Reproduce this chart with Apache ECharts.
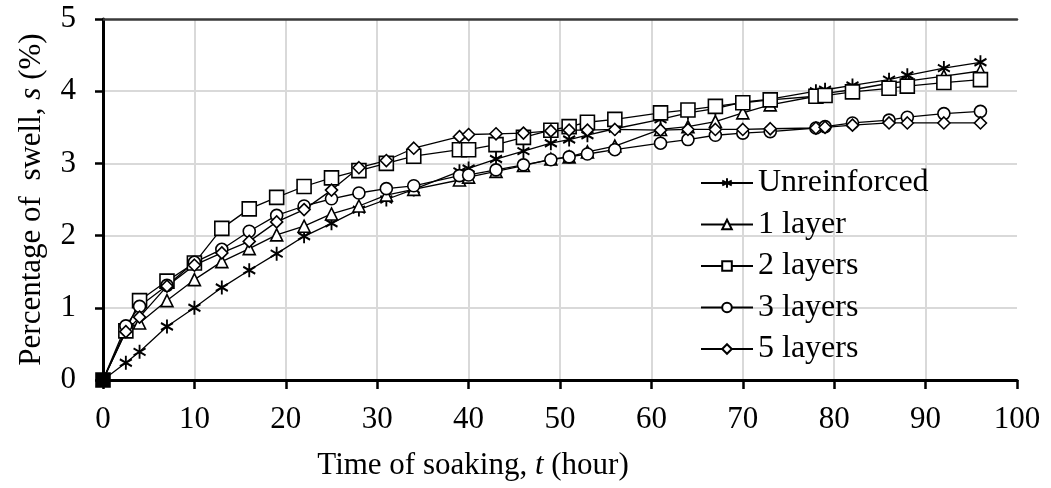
<!DOCTYPE html>
<html>
<head>
<meta charset="utf-8">
<script src="https://cdn.jsdelivr.net/npm/echarts@6/dist/echarts.min.js"></script>
<style>
    html, body { margin: 0; padding: 0; background: #fff; }
    #chart { width: 1051px; height: 488px; }
</style>
</head>
<body>
<div id="chart"></div>
<script>
// soaking time (hour), shared by all series
var timeH = [0, 2.5, 4, 7, 10, 13, 16, 19, 22, 25, 28, 31, 34, 39, 40, 43, 46, 49, 51, 53, 56, 61, 64, 67, 70, 73, 78, 79, 82, 86, 88, 92, 96];

// swell, s (%)
var unreinforced = [0, 0.24, 0.39, 0.74, 1.0, 1.28, 1.52, 1.75, 1.99, 2.17, 2.36, 2.5, 2.64, 2.89, 2.93, 3.06, 3.17, 3.28, 3.33, 3.39, 3.48, 3.61, 3.70, 3.76, 3.85, 3.89, 4.0, 4.02, 4.08, 4.16, 4.22, 4.32, 4.40];
var layer1 = [0, 0.70, 0.79, 1.1, 1.39, 1.64, 1.82, 2.01, 2.13, 2.30, 2.41, 2.56, 2.64, 2.77, 2.81, 2.89, 2.97, 3.06, 3.09, 3.16, 3.24, 3.47, 3.51, 3.58, 3.70, 3.81, 3.93, 3.97, 4.02, 4.11, 4.14, 4.21, 4.28];
var layer2 = [0, 0.68, 1.1, 1.37, 1.62, 2.1, 2.37, 2.53, 2.68, 2.8, 2.9, 3.0, 3.1, 3.19, 3.19, 3.26, 3.36, 3.46, 3.51, 3.57, 3.61, 3.70, 3.74, 3.79, 3.84, 3.88, 3.93, 3.94, 3.99, 4.04, 4.07, 4.12, 4.16];
var layer3 = [0, 0.75, 1.02, 1.31, 1.63, 1.81, 2.06, 2.28, 2.41, 2.51, 2.59, 2.65, 2.69, 2.83, 2.84, 2.91, 2.98, 3.05, 3.09, 3.13, 3.19, 3.28, 3.33, 3.39, 3.42, 3.44, 3.49, 3.51, 3.56, 3.60, 3.64, 3.69, 3.72];
var layer5 = [0, 0.67, 0.87, 1.3, 1.59, 1.76, 1.92, 2.19, 2.36, 2.63, 2.94, 3.04, 3.21, 3.37, 3.40, 3.41, 3.42, 3.45, 3.46, 3.46, 3.47, 3.46, 3.47, 3.47, 3.47, 3.48, 3.49, 3.50, 3.53, 3.56, 3.56, 3.56, 3.56];

var seriesNames = ['Unreinforced', '1 layer', '2 layers', '3 layers', '5 layers'];
var xTicks = [0, 10, 20, 30, 40, 50, 60, 70, 80, 90, 100];
var yTicks = [0, 1, 2, 3, 4, 5];

var FONT = 'Liberation Serif';
var asterisk = 'path://M5,0L5,12M0,3L10,9M0,9L10,3';

function pairs(ys) {
    var out = [];
    for (var i = 0; i < timeH.length; i++) {
        if (i === 0) {
            // all markers pile up at the origin -> drawn as a black blob
            out.push({ value: [timeH[i], ys[i]], itemStyle: { color: '#000' } });
        } else {
            out.push([timeH[i], ys[i]]);
        }
    }
    return out;
}

function makeSeries(name, ys, symbol, size, bw) {
    return {
        name: name,
        type: 'line',
        data: pairs(ys),
        symbol: symbol,
        symbolSize: size,
        showAllSymbol: true,
        lineStyle: { color: '#000', width: 1.3 },
        itemStyle: { color: '#fff', borderColor: '#000', borderWidth: bw },
        emphasis: { disabled: true }
    };
}

var myChart = echarts.init(document.getElementById('chart'));
myChart.setOption({
    animation: false,
    backgroundColor: '#fff',
    textStyle: { fontFamily: FONT, color: '#000' },
    grid: { left: 103, right: 34, top: 19, bottom: 108, containLabel: false },
    legend: {
        data: seriesNames,
        orient: 'vertical',
        left: 700,
        top: 167,
        padding: 0,
        itemWidth: 52,
        itemHeight: 12,
        itemGap: 9.5,
        textStyle: { fontFamily: FONT, fontSize: 32, color: '#000' }
    },
    xAxis: [{
        type: 'value',
        min: xTicks[0],
        max: xTicks[xTicks.length - 1],
        interval: 10,
        name: '{a|Time of soaking, }{i|t}{a| (hour)}',
        nameLocation: 'middle',
        nameGap: 70,
        nameTextStyle: {
            padding: [0, 174, 0, 0],
            rich: {
                a: { fontFamily: FONT, fontSize: 31, color: '#000' },
                i: { fontFamily: FONT, fontSize: 31, fontStyle: 'italic', color: '#000' }
            }
        },
        axisLine: { lineStyle: { color: '#000', width: 3 } },
        axisTick: { inside: false, length: 9, lineStyle: { color: '#000', width: 2.5 } },
        axisLabel: { margin: 24, fontFamily: FONT, fontSize: 31, color: '#000' },
        splitLine: { show: true, showMinLine: false, showMaxLine: false, lineStyle: { color: '#d9d9d9', width: 2 } }
    }, {
        type: 'value',
        position: 'top',
        min: xTicks[0],
        max: xTicks[xTicks.length - 1],
        axisLine: { show: true, lineStyle: { color: '#3a3a3a', width: 2.5 } },
        axisTick: { show: false },
        axisLabel: { show: false },
        splitLine: { show: false }
    }],
    yAxis: {
        type: 'value',
        min: yTicks[0],
        max: yTicks[yTicks.length - 1],
        interval: 1,
        name: '{a|Percentage of  swell, }{i|s}{a| (%)}',
        nameLocation: 'middle',
        nameGap: 56,
        nameTextStyle: {
            rich: {
                a: { fontFamily: FONT, fontSize: 31, color: '#000' },
                i: { fontFamily: FONT, fontSize: 31, fontStyle: 'italic', color: '#000' }
            }
        },
        axisLine: { show: true, lineStyle: { color: '#000', width: 3 } },
        axisTick: { show: true, inside: false, length: 8, lineStyle: { color: '#000', width: 2.5 } },
        axisLabel: { margin: 27, fontFamily: FONT, fontSize: 31, color: '#000' },
        splitLine: { show: true, showMinLine: false, showMaxLine: false, lineStyle: { color: '#d9d9d9', width: 2 } }
    },
    series: [
        makeSeries(seriesNames[0], unreinforced, asterisk, [12, 14], 2),
        makeSeries(seriesNames[1], layer1, 'triangle', 12, 1.6),
        makeSeries(seriesNames[2], layer2, 'rect', 14, 1.6),
        makeSeries(seriesNames[3], layer3, 'circle', 12, 1.6),
        makeSeries(seriesNames[4], layer5, 'diamond', 12, 1.6)
    ]
});
</script>
</body>
</html>
